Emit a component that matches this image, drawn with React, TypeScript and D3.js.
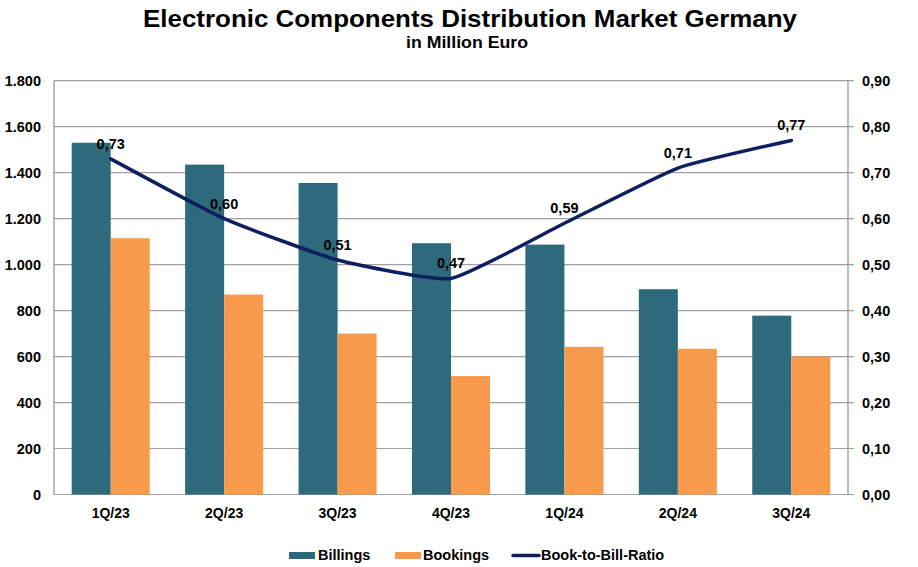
import React from "react";
import * as d3 from "d3";

const categories = ["1Q/23", "2Q/23", "3Q/23", "4Q/23", "1Q/24", "2Q/24", "3Q/24"];
const billings = [1530, 1435, 1355, 1093, 1087, 893, 778];
const bookings = [1115, 870, 700, 515, 642, 634, 600];
const ratio = [0.73, 0.6, 0.51, 0.47, 0.59, 0.71, 0.77];
const leftTicks = [0, 200, 400, 600, 800, 1000, 1200, 1400, 1600, 1800];
const rightTicks = [0, 0.1, 0.2, 0.3, 0.4, 0.5, 0.6, 0.7, 0.8, 0.9];

const W = 918;
const H = 567;
const M = { left: 54, right: 848, top: 80.7, bottom: 494.5 };
const teal = "#2D6A7B";
const orange = "#F79A4B";
const navy = "#0E1F60";
const gridC = "#A0A0A0";
const FONT = "'Liberation Sans', Arial, sans-serif";

const fmtLeft = (v: number) => d3.format(",")(v).replace(/,/g, ".");
const fmtRight = (v: number) => v.toFixed(2).replace(".", ",");

export default function App() {
  const x = d3.scaleBand<string>().domain(categories).range([M.left, M.right]).paddingInner(0).paddingOuter(0);
  const yL = d3.scaleLinear().domain([0, 1800]).range([M.bottom, M.top]);
  const yR = d3.scaleLinear().domain([0, 0.9]).range([M.bottom, M.top]);
  const bw = x.bandwidth() * 0.344;
  const cx = (c: string) => (x(c) as number) + x.bandwidth() / 2;

  const line = d3
    .line<number>()
    .x((_, i) => cx(categories[i]))
    .y((d) => yR(d))
    .curve(d3.curveCardinal.tension(0.55));

  return (
    <svg width={W} height={H} style={{ display: "block", position: "absolute", left: 0, top: 0 }} fontFamily={FONT}>
      <rect width={W} height={H} fill="#fff" />
      <text x={470} y={27.3} textAnchor="middle" fontSize={24} fontWeight="bold" textLength={654} lengthAdjust="spacingAndGlyphs">
        Electronic Components Distribution Market Germany
      </text>
      <text x={467} y={48} textAnchor="middle" fontSize={16} fontWeight="bold" textLength={122} lengthAdjust="spacingAndGlyphs">
        in Million Euro
      </text>

      {leftTicks.map((t) => (
        <line key={"g" + t} x1={M.left} x2={M.right + 6} y1={yL(t)} y2={yL(t)} stroke={gridC} strokeWidth={1.2} />
      ))}
      <line x1={M.left} x2={M.left} y1={M.top} y2={M.bottom} stroke={gridC} strokeWidth={1.4} />
      <line x1={M.right} x2={M.right} y1={M.top} y2={M.bottom} stroke={gridC} strokeWidth={1.4} />

      {leftTicks.map((t) => (
        <text key={"l" + t} x={41} y={yL(t) + 5} textAnchor="end" fontSize={14.5} fontWeight="bold">
          {fmtLeft(t)}
        </text>
      ))}
      {rightTicks.map((t) => (
        <text key={"r" + t} x={862} y={yR(t) + 5} textAnchor="start" fontSize={14.5} fontWeight="bold">
          {fmtRight(t)}
        </text>
      ))}

      {categories.map((c, i) => (
        <g key={c}>
          <rect x={cx(c) - bw} y={yL(billings[i])} width={bw} height={M.bottom - yL(billings[i])} fill={teal} />
          <rect x={cx(c)} y={yL(bookings[i])} width={bw} height={M.bottom - yL(bookings[i])} fill={orange} />
          <text x={cx(c)} y={518} textAnchor="middle" fontSize={14} fontWeight="bold">
            {c}
          </text>
        </g>
      ))}

      <path d={line(ratio) || ""} fill="none" stroke={navy} strokeWidth={3.5} strokeLinejoin="round" strokeLinecap="round" />
      {ratio.map((r, i) => (
        <text key={"d" + i} x={cx(categories[i])} y={yR(r) - 10} textAnchor="middle" fontSize={14.5} fontWeight="bold">
          {fmtRight(r)}
        </text>
      ))}

      <g fontSize={14.5} fontWeight="bold">
        <rect x={289} y={552} width={26} height={7} fill={teal} />
        <text x={318} y={560}>Billings</text>
        <rect x={395} y={552} width={26} height={7} fill={orange} />
        <text x={423} y={560}>Bookings</text>
        <line x1={513} x2={539} y1={555.5} y2={555.5} stroke={navy} strokeWidth={3.5} strokeLinecap="round" />
        <text x={541} y={560}>Book-to-Bill-Ratio</text>
      </g>
    </svg>
  );
}
